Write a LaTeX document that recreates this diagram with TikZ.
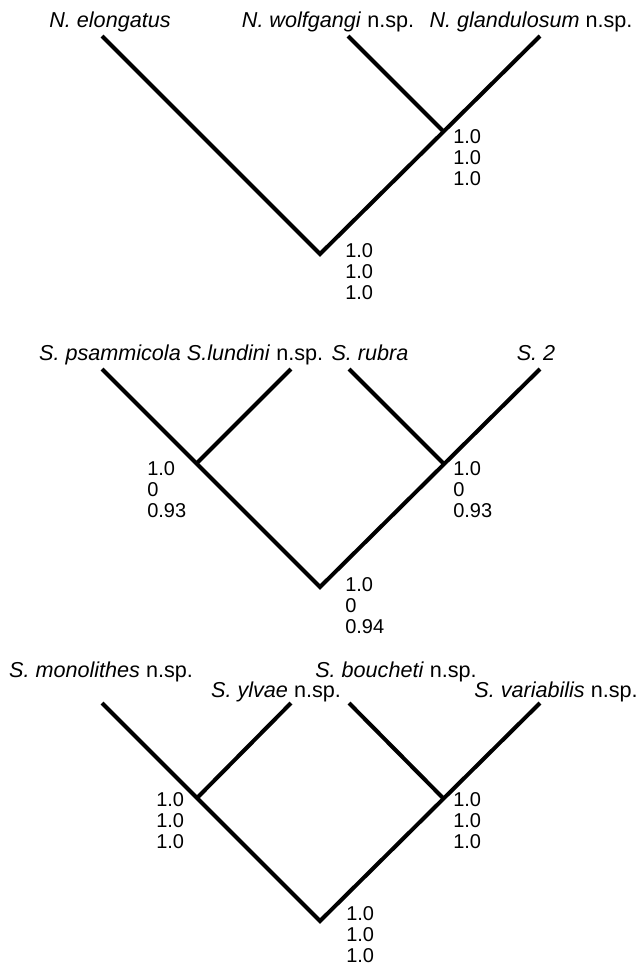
\documentclass[tikz,border=0pt]{standalone}
\usepackage{fontspec}
\setmainfont{Liberation Sans}
\begin{document}
\begin{tikzpicture}[x=0.75pt,y=-0.75pt,
  br/.style={line width=3pt, line join=miter, line cap=butt},
  tx/.style={anchor=base, inner sep=0pt, font=\fontsize{16.2}{18}\selectfont},
  num/.style={anchor=north west, inner sep=0pt, align=left, font=\fontsize{15}{15.75}\selectfont}]
\useasboundingbox (0,0) rectangle (638,965);
% ---------- tree 1 ----------
\coordinate (t1a) at (102,36);
\coordinate (t1b) at (348,36);
\coordinate (t1c) at (540,36);
\coordinate (n1) at (443,131);
\coordinate (r1) at (320,254);
\draw[br] (t1a) -- (r1) -- (t1c);
\draw[br] (t1b) -- (n1);
\node[tx] (l1a) at (110,27) {\textit{N. elongatus}};
\node[tx] (l1b) at (328,27) {\textit{N. wolfgangi} n.sp.};
\node[tx] (l1c) at (531,27) {\textit{N. glandulosum} n.sp.};
\node[num] (s1n) at (453,129) {1.0\\1.0\\1.0};
\node[num] (s1r) at (345,243) {1.0\\1.0\\1.0};
% ---------- tree 2 ----------
\coordinate (t2a) at (102,369);
\coordinate (t2b) at (291,369);
\coordinate (t2c) at (349,369);
\coordinate (t2d) at (540,369);
\coordinate (n2a) at (197,463);
\coordinate (n2b) at (443,463);
\coordinate (r2) at (320,587);
\draw[br] (t2a) -- (r2) -- (t2d);
\draw[br] (t2b) -- (n2a);
\draw[br] (t2c) -- (n2b);
\node[tx] (l2a) at (110,360) {\textit{S. psammicola}};
\node[tx] (l2b) at (255,360) {\textit{S.lundini} n.sp.};
\node[tx] (l2c) at (370,360) {\textit{S. rubra}};
\node[tx] (l2d) at (536,360) {\textit{S. 2}};
\node[num] (s2a) at (147,461) {1.0\\0\\0.93};
\node[num] (s2b) at (453,461) {1.0\\0\\0.93};
\node[num] (s2r) at (345,577) {1.0\\0\\0.94};
% ---------- tree 3 ----------
\coordinate (t3a) at (102,703);
\coordinate (t3b) at (291,703);
\coordinate (t3c) at (349,703);
\coordinate (t3d) at (540,703);
\coordinate (n3a) at (197,798);
\coordinate (n3b) at (443,798);
\coordinate (r3) at (320,921);
\draw[br] (t3a) -- (r3) -- (t3d);
\draw[br] (t3b) -- (n3a);
\draw[br] (t3c) -- (n3b);
\node[tx] (l3a) at (101,677) {\textit{S. monolithes} n.sp.};
\node[tx] (l3b) at (396,677) {\textit{S. boucheti} n.sp.};
\node[tx] (l3c) at (276,697) {\textit{S. ylvae} n.sp.};
\node[tx] (l3d) at (556,697) {\textit{S. variabilis} n.sp.};
\node[num] (s3a) at (156,792) {1.0\\1.0\\1.0};
\node[num] (s3b) at (453,792) {1.0\\1.0\\1.0};
\node[num] (s3r) at (346,906) {1.0\\1.0\\1.0};
\end{tikzpicture}
\end{document}
